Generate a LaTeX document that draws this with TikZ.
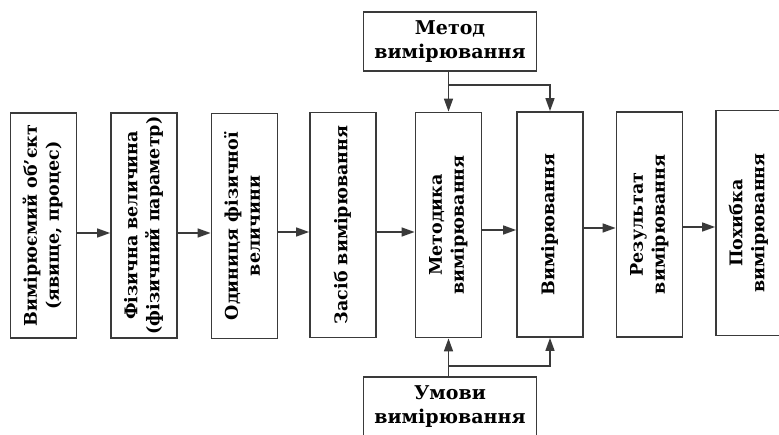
\documentclass[tikz,border=0pt]{standalone}
\usepackage{fontspec}
\setmainfont{DejaVu Serif}
\usetikzlibrary{arrows.meta}
\definecolor{linec}{HTML}{3A3A3A}
\newcommand\vtext[1]{\rotatebox{90}{\begin{tabular}{@{}c@{}}#1\end{tabular}}}
\begin{document}
\begin{tikzpicture}[x=1pt,y=-1pt,
  box/.style={draw=linec, line width=1.8pt, minimum width=66pt, minimum height=225pt, inner sep=0pt, font=\bfseries\fontsize{17.5}{22}\selectfont},
  hbox/.style={draw=linec, line width=1.8pt, minimum width=173pt, minimum height=59pt, inner sep=0pt, align=center, font=\bfseries\fontsize{19}{24}\selectfont},
  arr/.style={draw=linec, line width=1.5pt, -{Triangle[length=13pt,width=9pt]}},
  ln/.style={draw=linec, line width=1.5pt}]
\clip (0,0) rectangle (779,435);
\fill[white] (0,0) rectangle (779,435);
\node[box] (b1) at (43.5,225.5) {\vtext{Вимірюємий об'єкт\\(явище, процес)}};
\node[box] (b2) at (144,225.5) {\vtext{Фізична величина\\(фізичний параметр)}};
\node[box] (b3) at (244.5,226) {\vtext{Одиниця фізичної\\величини}};
\node[box] (b4) at (343,225) {\vtext{Засіб вимірювання}};
\node[box] (b5) at (448.5,225) {\vtext{Методика\\вимірювання}};
\node[box] (b6) at (550,224.5) {\vtext{Вимірювання}};
\node[box] (b7) at (649.5,224.5) {\vtext{Результат\\вимірювання}};
\node[box] (b8) at (749,223) {\vtext{Похибка\\вимірювання}};
\node[hbox] (m) at (450,41.5) {Метод\\вимірювання};
\node[hbox] (u) at (450,406.5) {Умови\\вимірювання};
\coordinate (y1) at (0,233);
\coordinate (y2) at (0,233);
\coordinate (y3) at (0,232);
\coordinate (y4) at (0,232);
\coordinate (y5) at (0,230);
\coordinate (y6) at (0,228);
\coordinate (y7) at (0,227);
\coordinate (yt) at (0,85);
\coordinate (yb) at (0,366);
\draw[arr] (b1.east |- y1) -- (b2.west |- y1);
\draw[arr] (b2.east |- y2) -- (b3.west |- y2);
\draw[arr] (b3.east |- y3) -- (b4.west |- y3);
\draw[arr] (b4.east |- y4) -- (b5.west |- y4);
\draw[arr] (b5.east |- y5) -- (b6.west |- y5);
\draw[arr] (b6.east |- y6) -- (b7.west |- y6);
\draw[arr] (b7.east |- y7) -- (b8.west |- y7);
\draw[arr] (b5.north |- m.south) -- (b5.north);
\draw[arr] (b5.north |- yt) -| (b6.north);
\draw[arr] (b5.south |- u.north) -- (b5.south);
\draw[arr] (b5.south |- yb) -| (b6.south);
\end{tikzpicture}
\end{document}
